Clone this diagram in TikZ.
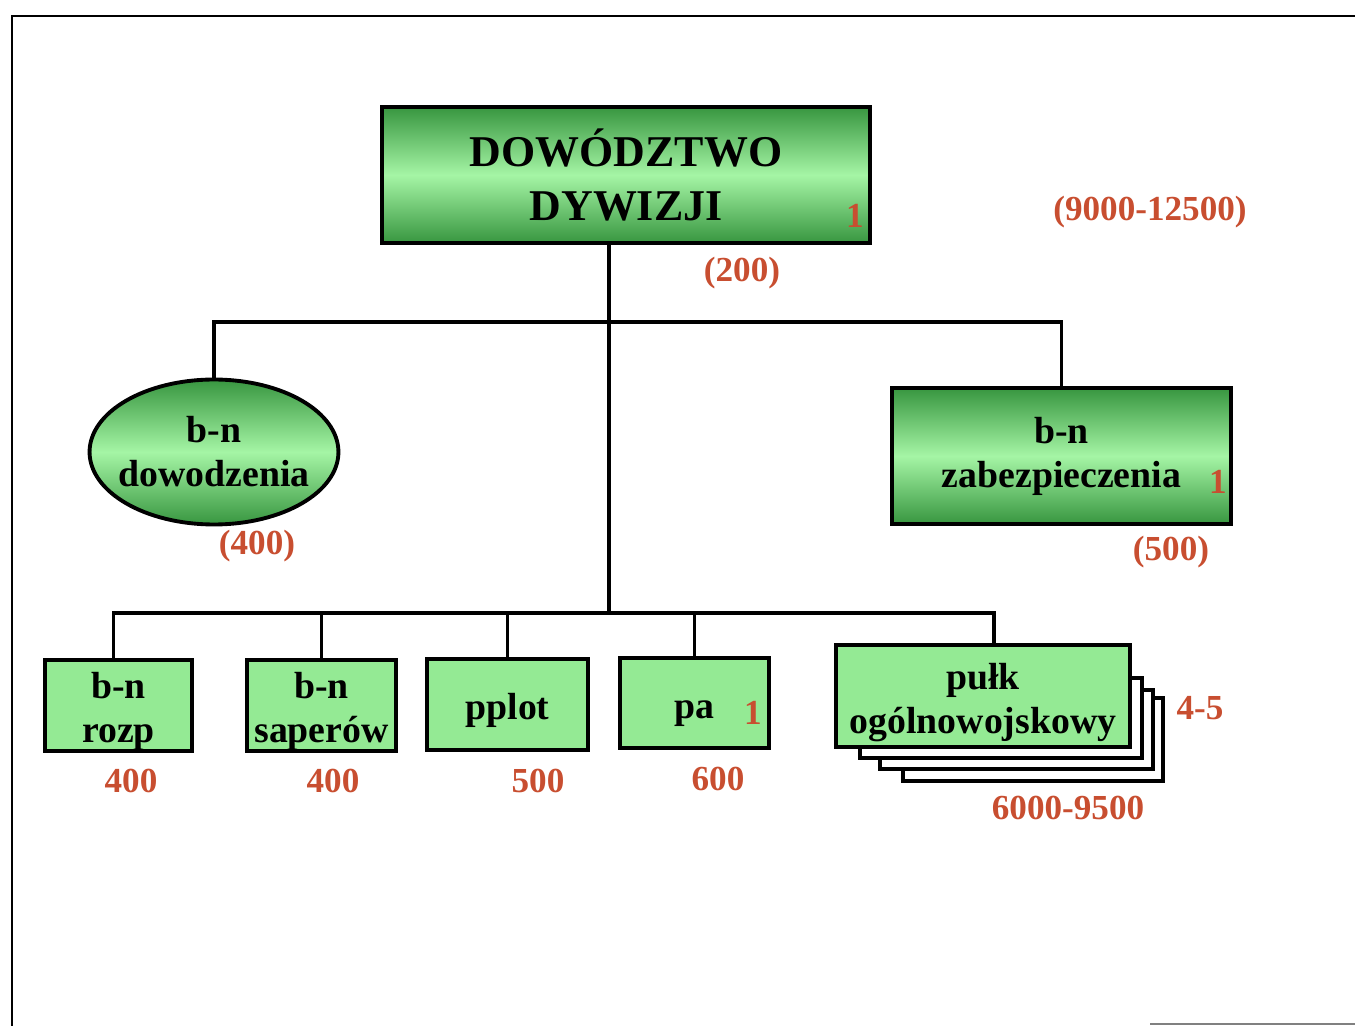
\documentclass[tikz,border=0pt]{standalone}
\usepackage{fontspec}
\setmainfont{Liberation Serif}
\usetikzlibrary{shapes.geometric}
\definecolor{gdark}{RGB}{56,150,64}
\definecolor{glight}{RGB}{165,245,165}
\definecolor{gflat}{RGB}{148,234,148}
\definecolor{numred}{RGB}{200,78,48}
\newcommand{\lift}{\rule{0pt}{0.8em}}
\newcommand{\nodepth}[1]{\raisebox{0pt}[\height][0pt]{#1}}

\begin{document}
\begin{tikzpicture}[x=0.02cm, y=-0.02cm, every node/.style={font=\bfseries\fontsize{21.5}{25}\selectfont, align=center}, unit/.style={draw, line width=2.2pt, inner sep=0pt}, shaded/.style={unit, top color=gdark, bottom color=gdark, middle color=glight}, flat/.style={unit, fill=gflat}, num/.style={text=numred, font=\bfseries\fontsize{20}{24}\selectfont}, link/.style={line width=1.9pt}]
\useasboundingbox (0,0) rectangle (1355,1026);
% frame
\draw[line width=1.6pt] (12,1026) -- (12,16) -- (1355,16);
\draw[line width=1.2pt, gray] (1150,1024) -- (1355,1024);
% units
\node[shaded, minimum width=9.76cm, minimum height=2.72cm, font=\bfseries\fontsize{25}{31}\selectfont] (dyw) at (626,175) {DOWÓDZTWO\\DYWIZJI};
\node[shaded, ellipse, inner xsep=-0.15cm, minimum width=4.96cm, minimum height=2.9cm] (dow) at (214,452) {b-n\\dowodzenia};
\node[shaded, minimum width=6.78cm, minimum height=2.72cm] (zab) at (1061.5,456) {b-n\\zabezpieczenia};
\node[flat, minimum width=2.94cm, minimum height=1.82cm] (rozp) at (118.5,705.5) {\lift b-n\\\nodepth{rozp}};
\node[flat, minimum width=2.98cm, minimum height=1.82cm] (sap) at (321.5,705.5) {\lift b-n\\\nodepth{saperów}};
\node[flat, minimum width=3.22cm, minimum height=1.82cm] (pplot) at (507.5,704.5) {\lift\nodepth{pplot}};
\node[flat, minimum width=2.98cm, minimum height=1.8cm] (pa) at (694.5,703) {\lift\nodepth{pa}};
\foreach \l/\t/\r/\b in {903/698/1163/781, 880/690/1153/769, 860/678/1142/758}
  \draw[line width=2.2pt, fill=white] (\l,\t) rectangle (\r,\b);
\node[flat, minimum width=5.88cm, minimum height=2.04cm] (pulk) at (983,696) {\lift pułk\\\nodepth{ogólnowojskowy}};
% connectors
\coordinate (topbus) at (609,322);
\coordinate (botbus) at (609,613);
\draw[link] (dyw.south -| botbus) -- (botbus);
\draw[link] (dow.north) |- (topbus) -| (zab.north);
\draw[link] ([xshift=-0.1cm]rozp.north) |- (botbus) -| ([xshift=0.22cm]pulk.north);
\foreach \n in {sap,pplot,pa}
  \draw[link] (\n.north) -- (\n.north |- botbus);
% strengths
\node[num] (n9000) at (1150,212) {(9000-12500)};
\node[num] (n200) at (742,273) {(200)};
\node[num] (n400a) at (257,546) {(400)};
\node[num] (n500a) at (1171,552) {(500)};
\node[num] (n400b) at (131,781) {400};
\node[num] (n400c) at (333,781) {400};
\node[num] (n500b) at (538,781) {500};
\node[num] (n600) at (718,779) {600};
\node[num] (n45) at (1200,708) {4-5};
\node[num] (n6000) at (1068,808) {6000-9500};
\node[num] (one1) at (855,216) {1};
\node[num] (one2) at (1218,482) {1};
\node[num] (one3) at (753,713) {1};
\end{tikzpicture}
\end{document}
